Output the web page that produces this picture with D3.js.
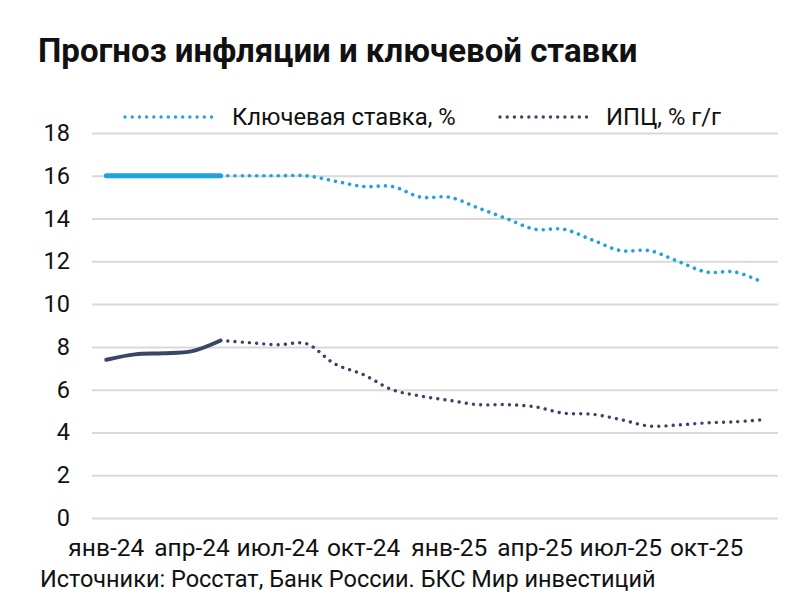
<!DOCTYPE html>
<html><head><meta charset="utf-8">
<script src="https://cdn.jsdelivr.net/npm/d3@7"></script>
<style>body{margin:0;background:#fff}svg{display:block}</style>
</head><body>
<script>
const months = ["янв-24","фев-24","мар-24","апр-24","май-24","июн-24","июл-24","авг-24","сен-24","окт-24","ноя-24","дек-24",
  "янв-25","фев-25","мар-25","апр-25","май-25","июн-25","июл-25","авг-25","сен-25","окт-25","ноя-25","дек-25"];
const tickLabels = ["янв-24","апр-24","июл-24","окт-24","янв-25","апр-25","июл-25","окт-25"];
const keyRate = [16,16,16,16,16,16,16,16,15.75,15.5,15.5,15,15,14.5,14,13.5,13.5,13,12.5,12.5,12,11.5,11.5,11];
const cpi = [7.4,7.65,7.7,7.8,8.3,8.2,8.1,8.15,7.2,6.7,6.0,5.7,5.5,5.3,5.3,5.2,4.9,4.85,4.6,4.3,4.35,4.45,4.5,4.6];
const actualCount = 5; // Jan–May 2024 are actual values
const yTicks = [0,2,4,6,8,10,12,14,16,18];
const seriesNames = ["Ключевая ставка, %","ИПЦ, % г/г"];
const colors = ["#1ea3dc","#3b4664"];

const W=800,H=613;
const svg=d3.select("body").append("svg").attr("width",W).attr("height",H);
const font="Roboto, 'Noto Sans', sans-serif";

const x=d3.scaleBand().domain(months).range([92,778]).padding(0);
const y=d3.scaleLinear().domain([0,18]).range([518,133]);
const cx=d=>x(d)+x.bandwidth()/2;

svg.append("text").attr("x",38).attr("y",62).attr("font-family",font).attr("font-weight",700)
  .attr("font-size",33).attr("fill","#111").text("Прогноз инфляции и ключевой ставки");

// grid
const yAxis=d3.axisLeft(y).tickValues(yTicks).tickSize(-(778-92)).tickFormat(d3.format("d"));
const ga=svg.append("g").attr("transform","translate(92,0)").call(yAxis);
ga.select(".domain").remove();
ga.selectAll(".tick line").attr("stroke","#d9d9d9").attr("stroke-width",2);
ga.selectAll(".tick text").attr("x",-22).attr("font-family",font).attr("font-size",23.5).attr("fill","#111");

const xAxis=d3.axisBottom(x).tickValues(tickLabels).tickSize(0);
const gx=svg.append("g").attr("transform","translate(0,528)").call(xAxis);
gx.select(".domain").remove();
gx.selectAll(".tick text").attr("dy",0).attr("y",28).attr("font-family",font).attr("font-size",24.5).attr("fill","#111");

const line=d3.line().x(d=>cx(d.m)).y(d=>y(d.v)).curve(d3.curveCatmullRom.alpha(0.5));
function draw(vals,color,wSolid,wDot){
  const pts=vals.map((v,i)=>({m:months[i],v}));
  svg.append("path").attr("d",line(pts.slice(actualCount-1))).attr("fill","none")
    .attr("stroke",color).attr("stroke-width",wDot).attr("stroke-linecap","round").attr("stroke-dasharray","0.01 7.2");
  svg.append("path").attr("d",line(pts.slice(0,actualCount))).attr("fill","none")
    .attr("stroke",color).attr("stroke-width",wSolid).attr("stroke-linecap","round");
}
draw(keyRate,colors[0],5,3.6);
draw(cpi,colors[1],4,3.4);

// legend
const leg=[{x0:125,x1:218,tx:232},{x0:500,x1:592,tx:606}];
leg.forEach((l,i)=>{
  svg.append("line").attr("x1",l.x0).attr("x2",l.x1).attr("y1",117).attr("y2",117)
    .attr("stroke",colors[i]).attr("stroke-width",3.4).attr("stroke-linecap","round").attr("stroke-dasharray","0.01 7.2");
  svg.append("text").attr("x",l.tx).attr("y",125).attr("font-family",font).attr("font-size",23.8).attr("fill","#111").text(seriesNames[i]);
});

svg.append("text").attr("x",40).attr("y",587).attr("font-family",font).attr("font-size",23.5).attr("fill","#111")
  .text("Источники: Росстат, Банк России. БКС Мир инвестиций");
</script>
</body></html>
